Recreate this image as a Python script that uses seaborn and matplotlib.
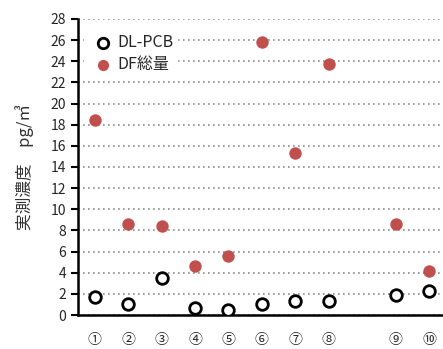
import pandas as pd
import numpy as np
import matplotlib
matplotlib.use("Agg")
import matplotlib.pyplot as plt
import seaborn as sns

# slots on the x axis, one left empty between 8 and 9
slots = ['①', '②', '③', '④', '⑤', '⑥', '⑦', '⑧', '', '⑨', '⑩']
sites = ['①', '②', '③', '④', '⑤', '⑥', '⑦', '⑧', '⑨', '⑩']
dl_pcb = [1.75, 1.05, 3.55, 0.65, 0.5, 1.1, 1.35, 1.35, 1.95, 2.3]
df_total = [18.4, 8.6, 8.4, 4.6, 5.6, 25.8, 15.3, 23.7, 8.6, 4.2]

df = pd.DataFrame({'site': sites, 'DL-PCB': dl_pcb, 'DF総量': df_total})
df['pos'] = [slots.index(s) for s in df['site']]

sns.set_style('white')
plt.rcParams['font.family'] = ['Noto Sans CJK JP', 'DejaVu Sans']

fig = plt.figure(figsize=(4.43, 3.49), dpi=100)
ax = fig.add_axes([0.176, 0.097, 0.83, 0.849])

sns.scatterplot(data=df, x='pos', y='DL-PCB', ax=ax, marker='o', s=70,
                facecolor='white', edgecolor='black', linewidth=2, label='DL-PCB', zorder=3)
sns.scatterplot(data=df, x='pos', y='DF総量', ax=ax, marker='o', s=80,
                color='#C0504D', edgecolor='#C0504D', linewidth=0, label='DF総量', zorder=3)

ax.set_xlim(-0.5, len(slots) - 0.5)
ax.set_ylim(0, 28)
ax.set_yticks(np.arange(0, 29, 2))
ax.yaxis.grid(True, linestyle=(0, (1, 2)), color='#8c8c8c', linewidth=1.2)
ax.set_axisbelow(True)

ax.set_xticks(np.arange(-0.5, len(slots), 1.0))
ax.set_xticklabels([])
ax.set_xticks(np.arange(len(slots)), minor=True)
ax.set_xticklabels(slots, minor=True)
ax.tick_params(axis='x', which='major', direction='out', length=5, width=1.5, color='black')
ax.tick_params(axis='x', which='minor', length=0, pad=13, labelsize=10, labelcolor='#262626')
ax.tick_params(axis='y', direction='out', length=5, width=1.5, color='black',
               labelsize=10, labelcolor='#262626', left=True)

for s in ['top', 'right']:
    ax.spines[s].set_visible(False)
for s in ['left', 'bottom']:
    ax.spines[s].set_color('black')
    ax.spines[s].set_linewidth(1.8)

ax.set_xlabel('')
ax.set_ylabel('実測濃度　pg/㎥', fontsize=12, color='#333333', labelpad=12)

leg = ax.legend(loc='upper left', bbox_to_anchor=(-0.005, 0.985), frameon=True, fontsize=11.5,
                handletextpad=-0.1, borderpad=0.2, labelspacing=0.3, markerscale=0.9)
leg.get_frame().set_edgecolor('white')
leg.get_frame().set_facecolor('white')
leg.get_frame().set_alpha(1)
for t in leg.get_texts():
    t.set_color('#262626')

fig.savefig('out.png', dpi=100)
